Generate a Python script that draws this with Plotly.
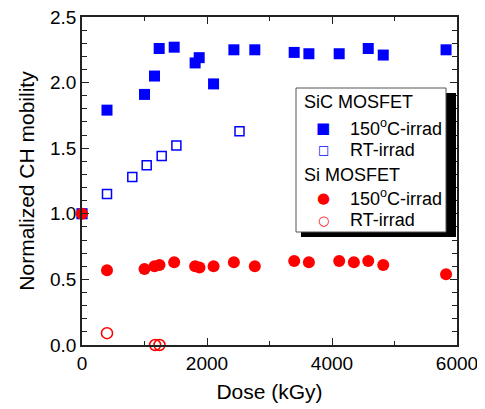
import plotly.graph_objects as go

# SiC MOSFET, irradiated at 150 C (filled squares)
sic_hot_dose = [0, 400, 1000, 1160, 1235, 1475, 1810, 1875, 2105, 2430, 2765, 3395, 3630, 4115, 4580, 4820, 5825]
sic_hot_mob = [1.00, 1.79, 1.91, 2.05, 2.26, 2.27, 2.15, 2.19, 1.99, 2.25, 2.25, 2.23, 2.22, 2.22, 2.26, 2.21, 2.25]

# SiC MOSFET, irradiated at RT (open squares)
sic_rt_dose = [0, 400, 805, 1035, 1275, 1510, 2520]
sic_rt_mob = [1.00, 1.15, 1.28, 1.37, 1.44, 1.52, 1.63]

# Si MOSFET, irradiated at 150 C (filled circles)
si_hot_dose = [0, 400, 1000, 1160, 1240, 1475, 1810, 1880, 2105, 2430, 2765, 3395, 3630, 4115, 4350, 4580, 4820, 5825]
si_hot_mob = [1.00, 0.57, 0.58, 0.60, 0.61, 0.63, 0.60, 0.59, 0.60, 0.63, 0.60, 0.64, 0.63, 0.64, 0.63, 0.64, 0.61, 0.54]

# Si MOSFET, irradiated at RT (open circles)
si_rt_dose = [400, 1170, 1240]
si_rt_mob = [0.09, 0.0, 0.0]

BLUE = "#0000ff"
RED = "#ff0000"
FONT = "Liberation Sans, Arial, sans-serif"
SYM_FONT = "DejaVu Sans"

fig = go.Figure()
fig.add_trace(go.Scatter(
    x=sic_hot_dose, y=sic_hot_mob, mode="markers", name="SiC 150C",
    marker=dict(symbol="square", size=11, color=BLUE), cliponaxis=False,
))
fig.add_trace(go.Scatter(
    x=sic_rt_dose, y=sic_rt_mob, mode="markers", name="SiC RT",
    marker=dict(symbol="square-open", size=9, color=BLUE, line=dict(width=1.5)),
    cliponaxis=False,
))
fig.add_trace(go.Scatter(
    x=si_hot_dose, y=si_hot_mob, mode="markers", name="Si 150C",
    marker=dict(symbol="circle", size=12, color=RED), cliponaxis=False,
))
fig.add_trace(go.Scatter(
    x=si_rt_dose, y=si_rt_mob, mode="markers", name="Si RT",
    marker=dict(symbol="circle-open", size=11, color=RED, line=dict(width=1.5)),
    cliponaxis=False,
))


# legend box drawn by hand (plotly's own legend spaces the rows too far apart)
# positions are given in screen pixels of the plot area and turned into paper units
def px(x):
    return (x - 82) / 375


def py(y):
    return (345 - y) / 328


fig.add_shape(type="rect", xref="paper", yref="paper",
              x0=px(301), x1=px(456), y0=py(237), y1=py(93),
              fillcolor="black", line_width=0, layer="above")
fig.add_shape(type="rect", xref="paper", yref="paper",
              x0=px(296), x1=px(446), y0=py(232), y1=py(88),
              fillcolor="white", line=dict(color="#555", width=1), layer="above")

# (label, symbol glyph, colour, glyph size, row centre in px)
legend_rows = [
    ("SiC MOSFET", None, None, 0, 102),
    ("150<sup>o</sup>C-irrad", "\u25a0", BLUE, 15, 128),
    ("RT-irrad", "\u25a1", BLUE, 12, 150),
    ("Si MOSFET", None, None, 0, 175),
    ("150<sup>o</sup>C-irrad", "\u25cf", RED, 15, 198),
    ("RT-irrad", "\u25cb", RED, 13, 220),
]
for label, sym, col, sym_size, row_y in legend_rows:
    if sym is None:
        fig.add_annotation(text=label, xref="paper", yref="paper", x=px(302), y=py(row_y),
                           xanchor="left", yanchor="middle", showarrow=False,
                           font=dict(size=18, color="black"))
    else:
        fig.add_annotation(text=sym, xref="paper", yref="paper", x=px(323), y=py(row_y),
                           xanchor="center", yanchor="middle", showarrow=False,
                           font=dict(size=sym_size, color=col, family=SYM_FONT))
        fig.add_annotation(text=label, xref="paper", yref="paper", x=px(348), y=py(row_y),
                           xanchor="left", yanchor="middle", showarrow=False,
                           font=dict(size=18, color="black"))

axis_common = dict(
    showline=True, linecolor="#222", linewidth=1.5, mirror="allticks",
    ticks="inside", tickcolor="#222", tickwidth=1.2, showgrid=False, zeroline=False,
    tickfont=dict(size=19, color="black"), automargin=False,
    ticklabeloverflow="allow",
)
fig.update_xaxes(
    range=[0, 6000], dtick=2000, ticklen=7,
    minor=dict(dtick=1000, ticks="inside", ticklen=4, tickcolor="#222"),
    title=dict(text="Dose (kGy)", font=dict(size=21), standoff=12),
    **axis_common,
)
fig.update_yaxes(
    range=[0, 2.5], dtick=0.5, tickformat=".1f", ticklen=7,
    minor=dict(dtick=0.1, ticks="inside", ticklen=5, tickcolor="#222"),
    title=dict(text="Normalized CH mobility", font=dict(size=21), standoff=10),
    **axis_common,
)

# the page body adds an 8px margin, so the figure is 8px smaller than the window
fig.update_layout(
    width=477, height=401,
    margin=dict(l=74, r=28, t=9, b=64),
    paper_bgcolor="white", plot_bgcolor="white",
    font=dict(family=FONT, size=19, color="black"),
    showlegend=False,
)

fig.write_html("out.html")
